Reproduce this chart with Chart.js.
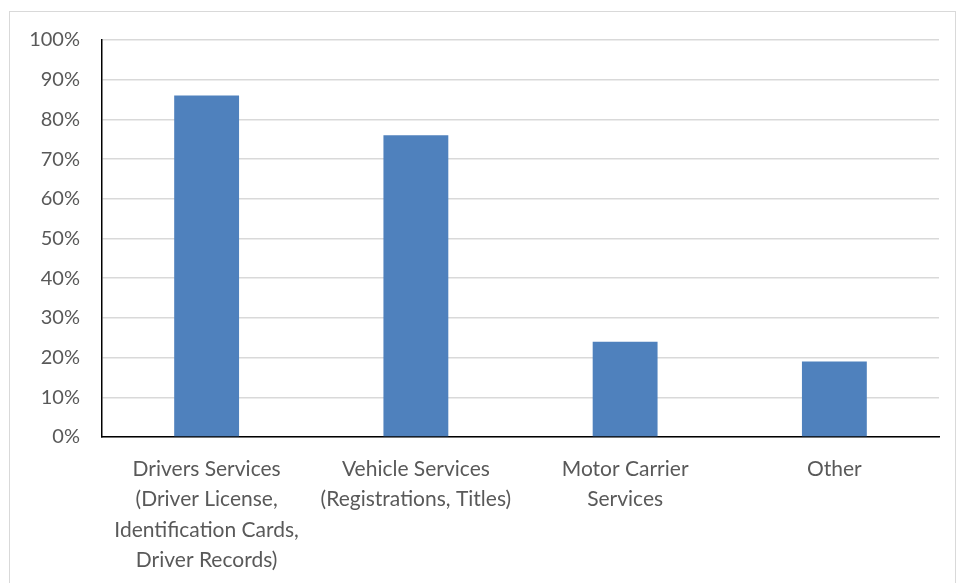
<!DOCTYPE html>
<html>
<head>
<meta charset="utf-8">
<script src="https://cdn.jsdelivr.net/npm/chart.js@4"></script>
<style>
  html, body { margin: 0; padding: 0; background: #fff; overflow: hidden; }
  #frame { position: absolute; left: 9px; top: 11px; width: 947px; height: 600px; border: 1px solid #d9d9d9; box-sizing: border-box; }
  #wrap { position: absolute; left: 0; top: 0; width: 958px; height: 583px; }
</style>
</head>
<body>
<div id="frame"></div>
<div id="wrap"><canvas id="c" width="958" height="583"></canvas></div>
<script>
// Share of respondents by service area
const categories = [
  ["Drivers Services", "(Driver License,", "Identification Cards,", "Driver Records)"],
  ["Vehicle Services", "(Registrations, Titles)"],
  ["Motor Carrier", "Services"],
  ["Other"]
];
const values = [86, 76, 24, 19];
const yTicks = [0, 10, 20, 30, 40, 50, 60, 70, 80, 90, 100];

const labelFont = { family: "Lato, 'Open Sans', sans-serif", size: 21, lineHeight: 1.45 };

new Chart(document.getElementById("c"), {
  type: "bar",
  data: {
    labels: categories,
    datasets: [{
      data: values,
      backgroundColor: "#4f81bd",
      borderWidth: 0,
      categoryPercentage: 1,
      barPercentage: 0.31
    }]
  },
  options: {
    responsive: false,
    animation: false,
    events: [],
    layout: { padding: { left: 0, right: 19, top: 40, bottom: 0 } },
    plugins: { legend: { display: false }, tooltip: { enabled: false } },
    scales: {
      x: {
        grid: { display: false, drawTicks: false },
        border: { color: "#000", width: 1.5 },
        ticks: { color: "#595959", font: labelFont, padding: 17, maxRotation: 0, autoSkip: false },
        afterFit: s => { s.height = 146; }
      },
      y: {
        min: 0, max: 100,
        afterBuildTicks: s => { s.ticks = yTicks.map(v => ({ value: v })); },
        grid: { color: "#d9d9d9", lineWidth: 1.5, drawTicks: false },
        border: { color: "#000", width: 1.5 },
        ticks: {
          color: "#595959",
          font: { family: "Lato, 'Open Sans', sans-serif", size: 20 },
          padding: 22,
          callback: v => v + "%"
        },
        afterFit: s => { s.width = 102; }
      }
    }
  }
});
</script>
</body>
</html>
